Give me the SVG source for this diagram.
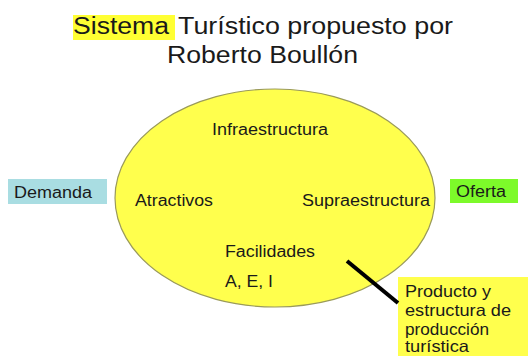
<svg xmlns="http://www.w3.org/2000/svg" width="528" height="356" viewBox="0 0 528 356">
<style>
text{font-family:"Liberation Sans",Arial,sans-serif;fill:#1a1a1a}
.t{font-size:23px}
.l{font-size:16px}
.p{font-size:16.5px}
</style>
<rect width="528" height="356" fill="#ffffff"/>
<g id="title">
<rect x="73" y="15" width="102" height="25" fill="#ffff33"/>
<text class="t" x="73" y="34" textLength="96" lengthAdjust="spacingAndGlyphs">Sistema</text>
<text class="t" x="178" y="34" textLength="275" lengthAdjust="spacingAndGlyphs">Turístico propuesto por</text>
<text class="t" x="167" y="63" textLength="191" lengthAdjust="spacingAndGlyphs">Roberto Boullón</text>
</g>
<g id="sistema">
<ellipse cx="275" cy="198" rx="160" ry="109" fill="#ffff4d" stroke="#9a9a5a" stroke-width="1.2"/>
<text class="l" x="212" y="135" textLength="116" lengthAdjust="spacingAndGlyphs">Infraestructura</text>
<text class="l" x="135" y="206" textLength="78" lengthAdjust="spacingAndGlyphs">Atractivos</text>
<text class="l" x="302" y="206" textLength="128" lengthAdjust="spacingAndGlyphs">Supraestructura</text>
<text class="l" x="225" y="257" textLength="90" lengthAdjust="spacingAndGlyphs">Facilidades</text>
<text class="l" x="225" y="287" textLength="48" lengthAdjust="spacingAndGlyphs">A, E, I</text>
</g>
<g id="demanda">
<rect x="8" y="179" width="99" height="25" fill="#a9dde2"/>
<text class="l" x="14" y="198" textLength="78" lengthAdjust="spacingAndGlyphs">Demanda</text>
</g>
<g id="oferta">
<rect x="450" y="179" width="68" height="24" fill="#7dfa2a"/>
<text class="l" x="456" y="197" textLength="50" lengthAdjust="spacingAndGlyphs">Oferta</text>
</g>
<g id="producto">
<rect x="398" y="277" width="130" height="79" fill="#ffff4d"/>
<text class="p" x="405" y="297" textLength="86" lengthAdjust="spacingAndGlyphs">Producto y</text>
<text class="p" x="405" y="316" textLength="106" lengthAdjust="spacingAndGlyphs">estructura de</text>
<text class="p" x="405" y="335" textLength="84" lengthAdjust="spacingAndGlyphs">producción</text>
<text class="p" x="405" y="352" textLength="64" lengthAdjust="spacingAndGlyphs">turística</text>
</g>
<g id="connectors">
<line x1="347" y1="261" x2="398" y2="303" stroke="#000" stroke-width="4"/>
</g>
</svg>
